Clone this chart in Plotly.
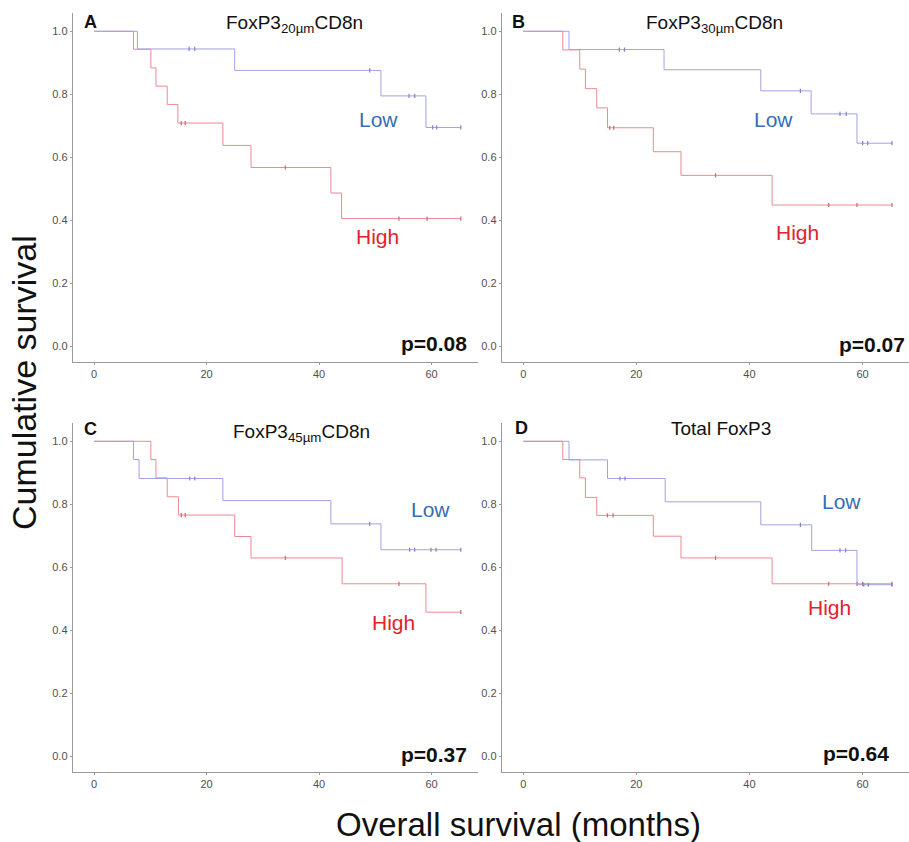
import plotly.graph_objects as go

# ---- Kaplan-Meier step data (months, cumulative survival) ----
# Panel A: FoxP3 20um CD8n
a_high_t = [0, 7.0, 10.1, 11.0, 13.0, 14.9, 22.9, 27.9, 42.1, 44.0]
a_high_s = [1.0, 0.943, 0.884, 0.826, 0.768, 0.709, 0.638, 0.568, 0.487, 0.406]
a_high_c = [15.5, 16.2, 34.0, 54.2, 59.2, 65.2]
a_low_t = [0, 7.7, 25.0, 51.0, 59.0]
a_low_s = [1.0, 0.944, 0.876, 0.795, 0.695]
a_low_c = [16.9, 17.9, 49.0, 56.0, 57.0, 60.2, 60.9, 65.2]

# Panel B: FoxP3 30um CD8n
b_high_t = [0, 7.0, 10.0, 11.0, 13.0, 14.9, 23.0, 27.9, 44.0]
b_high_s = [1.0, 0.941, 0.880, 0.818, 0.757, 0.694, 0.618, 0.543, 0.449]
b_high_c = [15.3, 16.0, 34.0, 54.0, 59.0, 65.2]
b_low_t = [0, 8.1, 24.9, 42.0, 50.9, 59.0]
b_low_s = [1.0, 0.942, 0.878, 0.811, 0.738, 0.645]
b_low_c = [17.0, 17.9, 49.0, 56.0, 57.1, 60.0, 60.9, 65.2]

# Panel C: FoxP3 45um CD8n
c_high_t = [0, 10.1, 11.0, 13.0, 15.0, 25.0, 27.9, 44.1, 59.0]
c_high_s = [1.0, 0.942, 0.884, 0.824, 0.766, 0.698, 0.630, 0.548, 0.458]
c_high_c = [15.5, 16.2, 34.0, 54.2, 65.2]
c_low_t = [0, 7.0, 8.0, 22.9, 42.1, 51.0]
c_low_s = [1.0, 0.942, 0.882, 0.812, 0.738, 0.656]
c_low_c = [17.0, 17.9, 49.0, 56.1, 57.0, 59.9, 60.8, 65.2]

# Panel D: Total FoxP3
d_high_t = [0, 7.0, 10.0, 11.0, 13.0, 23.0, 27.9, 44.0]
d_high_s = [1.0, 0.942, 0.884, 0.822, 0.765, 0.699, 0.630, 0.548]
d_high_c = [14.9, 15.9, 34.0, 54.0, 59.0, 60.0, 65.2]
d_low_t = [0, 8.1, 14.9, 25.1, 42.0, 51.0, 59.0]
d_low_s = [1.0, 0.941, 0.882, 0.808, 0.735, 0.654, 0.545]
d_low_c = [17.1, 18.0, 49.0, 56.0, 57.0, 60.2, 61.0, 65.2]

follow_up_end = 65.2

panel_letters = ["A", "B", "C", "D"]
panel_titles = [
    "FoxP3<sub>20µm</sub>CD8n",
    "FoxP3<sub>30µm</sub>CD8n",
    "FoxP3<sub>45µm</sub>CD8n",
    "Total FoxP3",
]
p_values = ["p=0.08", "p=0.07", "p=0.37", "p=0.64"]
x_ticks = [0, 20, 40, 60]
y_ticks = [0.0, 0.2, 0.4, 0.6, 0.8, 1.0]

W, H = 909, 842
FONT = "Arial, 'Liberation Sans', sans-serif"
RED_LINE = "#ee8890"
BLUE_LINE = "#a0a2e2"
RED_MARK = "#c86a72"
BLUE_MARK = "#7f82c8"
RED_TXT = "#e3222c"
BLUE_TXT = "#3470b3"
AXIS_COL = "#9a9a9a"

groups = [
    ((a_high_t, a_high_s, a_high_c), (a_low_t, a_low_s, a_low_c)),
    ((b_high_t, b_high_s, b_high_c), (b_low_t, b_low_s, b_low_c)),
    ((c_high_t, c_high_s, c_high_c), (c_low_t, c_low_s, c_low_c)),
    ((d_high_t, d_high_s, d_high_c), (d_low_t, d_low_s, d_low_c)),
]

# pixel boxes of each plot area: (left, right, top, bottom)
boxes = [
    (72.7, 477.7, 13, 361.7),
    (501.7, 909, 13, 361.7),
    (72.7, 477.7, 423, 771.7),
    (501.7, 909, 423, 771.7),
]


def px(x):
    return x / W


def py(y):
    return 1 - y / H


def surv_at(times, surv, t):
    val = surv[0]
    for ti, si in zip(times, surv):
        if ti <= t:
            val = si
    return val


fig = go.Figure()
for i, (grp, box) in enumerate(zip(groups, boxes)):
    k = "" if i == 0 else str(i + 1)
    xa, ya = "x" + k, "y" + k
    for (t, s, c), lc, mc in zip(grp, [RED_LINE, BLUE_LINE], [RED_MARK, BLUE_MARK]):
        fig.add_trace(go.Scatter(
            x=t + [follow_up_end], y=s + [s[-1]], mode="lines",
            line=dict(color=lc, width=1, shape="hv"),
            xaxis=xa, yaxis=ya, showlegend=False, hoverinfo="skip"))
        fig.add_trace(go.Scatter(
            x=c, y=[surv_at(t, s, ci) for ci in c], mode="markers",
            marker=dict(symbol="line-ns", size=3,
                        line=dict(color=mc, width=1.2)),
            xaxis=xa, yaxis=ya, showlegend=False, hoverinfo="skip"))

    l, r, tp, bt = box
    axis_common = dict(showline=True, linecolor=AXIS_COL, linewidth=1,
                       showgrid=False, zeroline=False, ticks="outside",
                       ticklen=2, tickcolor=AXIS_COL,
                       tickfont=dict(family=FONT, size=11, color="#505050"))
    fig.layout["xaxis" + k] = dict(
        domain=[px(l), px(r)], range=[-3.8, 68.2], anchor=ya,
        tickvals=x_ticks, **axis_common)
    fig.layout["yaxis" + k] = dict(
        domain=[py(bt), py(tp)], range=[-0.048, 1.058], anchor=xa,
        tickvals=y_ticks, tickformat=".1f", **axis_common)

ann = []
letter_pos = [(82, 21.5), (510, 21.5), (82, 429), (513, 428)]
title_pos = [(294, 24), (714, 24), (301, 433), (721, 428)]
low_pos = [(378, 119.5), (773, 119), (430, 509), (841, 501.5)]
high_pos = [(377.5, 237), (797, 232), (393, 622), (829, 607.5)]
p_pos = [(469, 343), (907, 344), (469, 754), (891, 753)]
for i in range(4):
    ann.append(dict(x=px(letter_pos[i][0]), y=py(letter_pos[i][1]),
                    text="<b>" + panel_letters[i] + "</b>", xanchor="left",
                    yanchor="middle", font=dict(family=FONT, size=18, color="#111")))
    ann.append(dict(x=px(title_pos[i][0]), y=py(title_pos[i][1]),
                    text=panel_titles[i], xanchor="center", yanchor="middle",
                    font=dict(family=FONT, size=19, color="#111")))
    ann.append(dict(x=px(low_pos[i][0]), y=py(low_pos[i][1]), text="Low",
                    xanchor="center", yanchor="middle",
                    font=dict(family=FONT, size=21, color=BLUE_TXT)))
    ann.append(dict(x=px(high_pos[i][0]), y=py(high_pos[i][1]), text="High",
                    xanchor="center", yanchor="middle",
                    font=dict(family=FONT, size=21, color=RED_TXT)))
    ann.append(dict(x=px(p_pos[i][0]), y=py(p_pos[i][1]),
                    text="<b>" + p_values[i] + "</b>", xanchor="right",
                    yanchor="middle", font=dict(family=FONT, size=21, color="#111")))

ann.append(dict(x=px(24), y=py(383), text="Cumulative survival", textangle=-90,
                xanchor="center", yanchor="middle",
                font=dict(family=FONT, size=34, color="#111")))
ann.append(dict(x=px(518), y=py(824), text="Overall survival (months)",
                xanchor="center", yanchor="middle",
                font=dict(family=FONT, size=33, color="#111")))
for a in ann:
    a.update(xref="paper", yref="paper", showarrow=False)

fig.update_layout(width=W, height=H, margin=dict(l=0, r=0, t=0, b=0),
                  paper_bgcolor="white", plot_bgcolor="white",
                  annotations=ann)
fig.write_html("out.html")
